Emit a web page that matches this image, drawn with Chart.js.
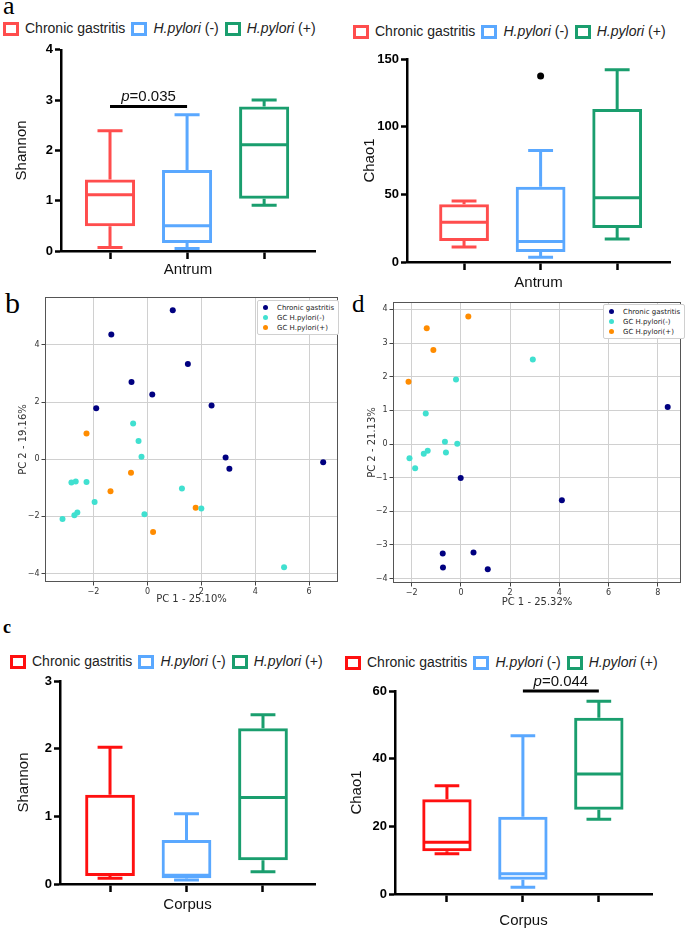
<!DOCTYPE html>
<html>
<head>
<meta charset="utf-8">
<script src="https://cdn.jsdelivr.net/npm/chart.js@4.4.1/dist/chart.umd.min.js"></script>
<style>
  body { margin: 0; background: #fff; }
  #page { position: relative; width: 685px; height: 931px; overflow: hidden; font-family: "Liberation Sans", Arial, sans-serif; }
  .pane { position: absolute; }
  .letter { position: absolute; font-family: "Liberation Serif", "Times New Roman", serif; line-height: 1; color: #000; }
  .legend { position: absolute; font-size: 14px; white-space: nowrap; line-height: 16px; color: #222; }
  .legend .sq { display: inline-block; width: 10px; height: 8px; border: 3px solid; vertical-align: -3px; margin-right: 6px; }
  .legend .item { display: inline-block; margin-right: 6px; }
  .pleg { position: absolute; background: #fff; border: 1px solid #d0d0d0; border-radius: 2px; font-family: "DejaVu Sans", sans-serif; font-size: 7px; color: #222; padding: 2px 4px 1px 5px; }
  .pleg div { height: 10px; line-height: 10px; white-space: nowrap; }
  .pleg span { display: inline-block; width: 5px; height: 5px; border-radius: 50%; margin-right: 9px; vertical-align: 0px; }
</style>
</head>
<body>
<div id="page">
  <div class="letter" style="left:3px;top:-7px;font-size:26px">a</div>
  <div class="letter" style="left:5px;top:288px;font-size:30px">b</div>
  <div class="letter" style="left:3px;top:618px;font-size:18px;font-weight:bold">c</div>
  <div class="letter" style="left:352px;top:291px;font-size:25px">d</div>

  <div class="legend" style="left:3px;top:20px" id="legA"></div>
  <div class="legend" style="left:353px;top:23px" id="legB"></div>
  <div class="legend" style="left:10px;top:653px" id="legC"></div>
  <div class="legend" style="left:345px;top:654px" id="legD"></div>

  <div class="pane" style="left:0;top:285px"><canvas id="pcaB" width="345" height="325"></canvas></div>
  <div class="pane" style="left:340px;top:290px"><canvas id="pcaD" width="345" height="320"></canvas></div>
  <div class="pane" style="left:0;top:40px"><canvas id="boxA" width="330" height="250"></canvas></div>
  <div class="pane" style="left:340px;top:45px"><canvas id="boxB" width="345" height="250"></canvas></div>
  <div class="pane" style="left:0;top:670px"><canvas id="boxC" width="330" height="261"></canvas></div>
  <div class="pane" style="left:340px;top:675px"><canvas id="boxD" width="345" height="256"></canvas></div>

  <div class="pleg" style="left:257px;top:300px" id="plegB"></div>
  <div class="pleg" style="left:603px;top:304px" id="plegD"></div>
</div>
<script>
// groups of the box plots
const groups = ['Chronic gastritis', 'H.pylori (-)', 'H.pylori (+)'];
const groupsItalic = ['', 'H.pylori', 'H.pylori'];
const groupsRest = ['Chronic gastritis', ' (-)', ' (+)'];

// each box: [min, q1, median, q3, max]
const shannonAntrum = [[0.07, 0.49, 1.12, 1.42, 2.39], [0.05, 0.16, 0.5, 1.61, 2.71], [0.91, 1.04, 2.11, 2.875, 3.0]];
const chaoAntrum = [[11, 15.6, 29.4, 42.7, 45], [3.5, 7.4, 15.1, 55.6, 82.3], [17, 25.2, 47.4, 113, 142]];
const chaoAntrumOutliers = [{ x: 1, y: 137.4 }];
const shannonCorpus = [[0.085, 0.12, 0.14, 1.32, 2.02], [0.06, 0.084, 0.13, 0.65, 1.04], [0.18, 0.35, 1.28, 2.3, 2.5]];
const chaoCorpus = [[11.9, 12.6, 15.3, 28, 32], [2, 4.2, 6, 22.8, 46.8], [22.1, 24.9, 35.5, 52.1, 57]];

// significance bars: [from group, to group, y value, p]
const sigShannonAntrum = [0, 1, 2.875, '0.035'];
const sigChaoCorpus = [1, 2, 60, '0.044'];

// PCA scores [PC1, PC2]
const pcaLabels = ['Chronic gastritis', 'GC H.pylori(-)', 'GC H.pylori(+)'];
const pcaB_chronic = [[0.94, 5.22], [-1.34, 4.37], [1.50, 3.33], [-0.59, 2.70], [0.18, 2.27], [-1.90, 1.78], [2.38, 1.88], [2.90, 0.06], [3.04, -0.33], [6.52, -0.11]];
const pcaB_neg = [[-0.53, 1.25], [-0.33, 0.64], [-0.22, 0.09], [-2.82, -0.82], [-2.66, -0.78], [-2.26, -0.80], [-1.96, -1.50], [-2.60, -1.87], [-2.71, -1.96], [-3.15, -2.09], [-0.11, -1.93], [1.28, -1.03], [2.00, -1.73], [5.07, -3.78]];
const pcaB_pos = [[-2.26, 0.90], [-0.61, -0.47], [-1.37, -1.12], [1.79, -1.70], [0.21, -2.55]];
const pcaD_chronic = [[8.40, 1.10], [-0.01, -1.01], [4.10, -1.67], [-0.74, -3.25], [0.51, -3.22], [-0.73, -3.67], [1.09, -3.72]];
const pcaD_neg = [[2.92, 2.51], [-0.20, 1.92], [-1.43, 0.91], [-0.65, 0.07], [-0.15, 0.01], [-1.35, -0.20], [-1.51, -0.29], [-0.61, -0.25], [-2.09, -0.42], [-1.86, -0.72]];
const pcaD_pos = [[0.30, 3.79], [-1.39, 3.44], [-1.12, 2.79], [-2.13, 1.85]];

const pcaColors = ['#000080', '#40e0d0', '#ff8c00'];
const colorsTop = ['#ff4d4d', '#5aa8ff', '#1a9e6e'];
const colorsBottom = ['#ff1010', '#5aa8ff', '#1a9e6e'];

Chart.defaults.font.family = '"Liberation Sans", Arial, sans-serif';
Chart.defaults.animation = false;
Chart.defaults.plugins.legend.display = false;
Chart.defaults.plugins.tooltip.enabled = false;

function htmlLegend(id, colors) {
  document.getElementById(id).innerHTML = groups.map((g, i) =>
    '<span class="item"><span class="sq" style="border-color:' + colors[i] + '"></span>' +
    (groupsItalic[i] ? '<i>' + groupsItalic[i] + '</i>' : '') + groupsRest[i] + '</span>').join('');
}
function pcaLegend(id) {
  document.getElementById(id).innerHTML = pcaLabels.map((l, i) =>
    '<div><span style="background:' + pcaColors[i] + '"></span>' + l + '</div>').join('');
}

const boxExtras = {
  id: 'boxExtras',
  afterDatasetsDraw(chart, args, opts) {
    if (!opts.stats) return;
    const ctx = chart.ctx, x = chart.scales.x, y = chart.scales.y;
    const meta = chart.getDatasetMeta(0);
    ctx.save();
    ctx.lineWidth = 3;
    opts.stats.forEach((s, i) => {
      const bar = meta.data[i];
      const cx = bar.x, half = bar.width / 2, cap = half / 2;
      const [lo, q1, med, q3, hi] = s.map(v => y.getPixelForValue(v));
      ctx.strokeStyle = opts.colors[i];
      ctx.beginPath();
      ctx.moveTo(cx, q3); ctx.lineTo(cx, hi);
      ctx.moveTo(cx - cap, hi); ctx.lineTo(cx + cap, hi);
      ctx.moveTo(cx, q1); ctx.lineTo(cx, lo);
      ctx.moveTo(cx - cap, lo); ctx.lineTo(cx + cap, lo);
      ctx.moveTo(cx - half + 1.5, med); ctx.lineTo(cx + half - 1.5, med);
      ctx.stroke();
    });
    if (opts.sig) {
      const [a, b, v, p] = opts.sig;
      const x1 = x.getPixelForValue(a), x2 = x.getPixelForValue(b), yy = y.getPixelForValue(v);
      ctx.strokeStyle = '#000';
      ctx.beginPath(); ctx.moveTo(x1, yy); ctx.lineTo(x2, yy); ctx.stroke();
      ctx.fillStyle = '#111';
      ctx.textBaseline = 'alphabetic';
      ctx.font = 'italic 15px "Liberation Sans", Arial';
      const w1 = ctx.measureText('p').width;
      ctx.font = '15px "Liberation Sans", Arial';
      const txt = '=' + p;
      const w2 = ctx.measureText(txt).width;
      const sx = (x1 + x2) / 2 - (w1 + w2) / 2;
      ctx.font = 'italic 15px "Liberation Sans", Arial';
      ctx.fillText('p', sx, yy - 5);
      ctx.font = '15px "Liberation Sans", Arial';
      ctx.fillText(txt, sx + w1, yy - 5);
    }
    ctx.restore();
  }
};

const frame = {
  id: 'frame',
  afterDatasetsDraw(chart, args, opts) {
    if (!opts.on) return;
    const a = chart.chartArea, ctx = chart.ctx;
    ctx.save();
    ctx.strokeStyle = '#555';
    ctx.lineWidth = 1;
    ctx.strokeRect(a.left + 0.5, a.top + 0.5, a.right - a.left - 1, a.bottom - a.top - 1);
    ctx.restore();
  }
};
Chart.register(boxExtras, frame);

function boxChart(id, stats, colors, o) {
  new Chart(document.getElementById(id), {
    type: 'bar',
    data: {
      datasets: [{
        data: stats.map((s, i) => ({ x: i, y: [s[1], s[3]] })),
        backgroundColor: 'rgba(0,0,0,0)',
        borderColor: colors,
        borderWidth: 3,
        borderSkipped: false,
        barPercentage: 0.65,
        categoryPercentage: 1
      }, {
        type: 'scatter',
        data: o.outliers || [],
        pointRadius: 3.5,
        backgroundColor: '#000',
        borderWidth: 0
      }]
    },
    options: {
      responsive: false,
      layout: { padding: { top: o.pad[0], right: o.pad[1], bottom: 0, left: 0 } },
      scales: {
        x: {
          type: 'linear', min: o.xr[0], max: o.xr[1], offset: false,
          afterBuildTicks: s => { s.ticks = [0, 1, 2].map(v => ({ value: v })); },
          afterFit: s => { s.height = o.xh; },
          ticks: { callback: () => '' },
          border: { color: '#000', width: 2.5 },
          grid: { offset: false, drawOnChartArea: false, tickLength: 8, tickWidth: 2.5, tickColor: '#000' },
          title: { display: true, text: o.xTitle, color: '#111', font: { size: 15 }, padding: { top: 0, bottom: o.tp[1] } }
        },
        y: {
          min: 0, max: o.yMax,
          afterFit: s => { s.width = o.yw; },
          ticks: { stepSize: o.yStep, color: '#000', font: { size: 13, weight: 'bold' }, padding: 2 },
          border: { color: '#000', width: 2.5 },
          grid: { drawOnChartArea: false, tickLength: 6, tickWidth: 2.5, tickColor: '#000' },
          title: { display: true, text: o.yTitle, color: '#111', font: { size: 15 }, padding: { top: o.tp[0], bottom: 0 } }
        }
      },
      plugins: { boxExtras: { stats: stats, colors: colors, sig: o.sig } }
    }
  });
}

function pcaChart(id, sets, o) {
  const minus = v => String(v).replace('-', '\u2212');
  const tickFont = { family: '"DejaVu Sans", sans-serif', size: 8 };
  const titleFont = { family: '"DejaVu Sans", sans-serif', size: 10 };
  new Chart(document.getElementById(id), {
    type: 'scatter',
    data: {
      datasets: sets.map((d, i) => ({
        label: pcaLabels[i],
        data: d.map(p => ({ x: p[0], y: p[1] })),
        backgroundColor: pcaColors[i],
        borderWidth: 0,
        pointRadius: 3
      }))
    },
    options: {
      responsive: false,
      layout: { padding: { top: o.pad[0], right: o.pad[1], bottom: 0, left: 0 } },
      scales: {
        x: {
          min: o.xr[0], max: o.xr[1],
          afterFit: s => { s.height = o.xh; },
          ticks: { stepSize: 2, includeBounds: false, color: '#333', font: tickFont, padding: 2, callback: minus },
          border: { display: false },
          grid: { color: '#d0d0d0', lineWidth: 1, tickLength: 3.5, tickColor: '#444' },
          title: { display: true, text: o.xTitle, color: '#333', font: titleFont, padding: { top: 0, bottom: o.tp[1] } }
        },
        y: {
          min: o.yr[0], max: o.yr[1],
          afterFit: s => { s.width = o.yw; },
          ticks: { stepSize: o.yStep, includeBounds: false, color: '#333', font: tickFont, padding: 2, callback: minus },
          border: { display: false },
          grid: { color: '#d0d0d0', lineWidth: 1, tickLength: 3.5, tickColor: '#444' },
          title: { display: true, text: o.yTitle, color: '#333', font: titleFont, padding: { top: o.tp[0], bottom: 0 } }
        }
      },
      plugins: { frame: { on: true } }
    }
  });
}

htmlLegend('legA', colorsTop);
htmlLegend('legB', colorsTop);
htmlLegend('legC', colorsBottom);
htmlLegend('legD', colorsBottom);
pcaLegend('plegB');
pcaLegend('plegD');

boxChart('boxA', shannonAntrum, colorsTop, {
  pad: [8, 15], xr: [-0.636, 2.66], xh: 39, yw: 61, yMax: 4, yStep: 1,
  xTitle: 'Antrum', yTitle: 'Shannon', tp: [13, 11], sig: sigShannonAntrum
});
boxChart('boxB', chaoAntrum, colorsTop, {
  pad: [14, 15], xr: [-0.745, 2.69], xh: 33, yw: 67, yMax: 150, yStep: 50,
  xTitle: 'Antrum', yTitle: 'Chao1', tp: [21, 3], outliers: chaoAntrumOutliers
});
boxChart('boxC', shannonCorpus, colorsBottom, {
  pad: [11, 15], xr: [-0.654, 2.68], xh: 47, yw: 60, yMax: 3, yStep: 1,
  xTitle: 'Corpus', yTitle: 'Shannon', tp: [15, 17]
});
boxChart('boxD', chaoCorpus, colorsBottom, {
  pad: [16, 33], xr: [-0.684, 2.70], xh: 37, yw: 55, yMax: 60, yStep: 20,
  xTitle: 'Corpus', yTitle: 'Chao1', tp: [8, 1], sig: sigChaoCorpus
});

pcaChart('pcaB', [pcaB_chronic, pcaB_neg, pcaB_pos], {
  pad: [12, 7], xr: [-3.8, 7.07], yr: [-4.3, 5.68], yStep: 2, xh: 28, yw: 45,
  xTitle: 'PC 1 - 25.10%', yTitle: 'PC 2 - 19.16%', tp: [17, 5]
});
pcaChart('pcaD', [pcaD_chronic, pcaD_neg, pcaD_pos], {
  pad: [12, 2], xr: [-2.76, 8.94], yr: [-4.13, 4.22], yStep: 1, xh: 27, yw: 53,
  xTitle: 'PC 1 - 25.32%', yTitle: 'PC 2 - 21.13%', tp: [26, 2]
});
</script>
</body>
</html>
